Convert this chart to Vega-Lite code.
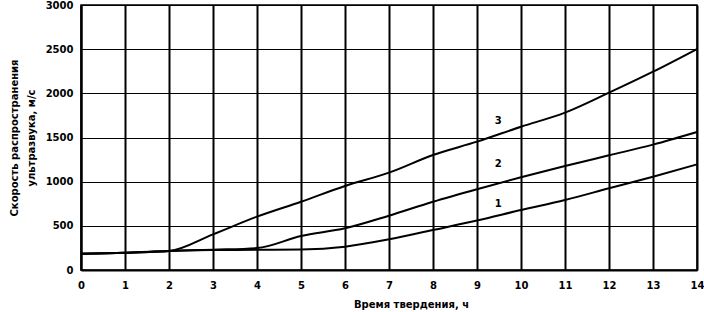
{
  "$schema": "https://vega.github.io/schema/vega-lite/v6.json",
  "autosize": {"type": "none"},
  "width": 616,
  "height": 265,
  "padding": {"left": 81, "top": 5, "right": 7, "bottom": 42},
  "background": "white",
  "config": {
    "view": {"stroke": "black", "strokeWidth": 1.5},
    "font": "DejaVu Sans"
  },
  "datasets": {
    "lines": [
      {"t": 0, "v": 185, "s": "1"}, {"t": 1, "v": 195, "s": "1"}, {"t": 2, "v": 215, "s": "1"}, {"t": 3, "v": 226, "s": "1"}, {"t": 4, "v": 228, "s": "1"}, {"t": 5, "v": 232, "s": "1"}, {"t": 6, "v": 264, "s": "1"}, {"t": 7, "v": 347, "s": "1"}, {"t": 8, "v": 453, "s": "1"}, {"t": 9, "v": 560, "s": "1"}, {"t": 10, "v": 679, "s": "1"}, {"t": 11, "v": 792, "s": "1"}, {"t": 12, "v": 925, "s": "1"}, {"t": 13, "v": 1056, "s": "1"}, {"t": 14, "v": 1196, "s": "1"},
      {"t": 0, "v": 185, "s": "2"}, {"t": 1, "v": 195, "s": "2"}, {"t": 2, "v": 215, "s": "2"}, {"t": 3, "v": 230, "s": "2"}, {"t": 4, "v": 248, "s": "2"}, {"t": 5, "v": 385, "s": "2"}, {"t": 6, "v": 472, "s": "2"}, {"t": 7, "v": 615, "s": "2"}, {"t": 8, "v": 773, "s": "2"}, {"t": 9, "v": 915, "s": "2"}, {"t": 10, "v": 1049, "s": "2"}, {"t": 11, "v": 1177, "s": "2"}, {"t": 12, "v": 1298, "s": "2"}, {"t": 13, "v": 1419, "s": "2"}, {"t": 14, "v": 1562, "s": "2"},
      {"t": 0, "v": 185, "s": "3"}, {"t": 1, "v": 195, "s": "3"}, {"t": 2, "v": 215, "s": "3"}, {"t": 3, "v": 404, "s": "3"}, {"t": 4, "v": 604, "s": "3"}, {"t": 5, "v": 773, "s": "3"}, {"t": 6, "v": 951, "s": "3"}, {"t": 7, "v": 1102, "s": "3"}, {"t": 8, "v": 1302, "s": "3"}, {"t": 9, "v": 1453, "s": "3"}, {"t": 10, "v": 1622, "s": "3"}, {"t": 11, "v": 1781, "s": "3"}, {"t": 12, "v": 2007, "s": "3"}, {"t": 13, "v": 2245, "s": "3"}, {"t": 14, "v": 2502, "s": "3"}
    ],
    "labels": [
      {"t": 9.48, "v": 1690, "s": "3"},
      {"t": 9.48, "v": 1195, "s": "2"},
      {"t": 9.48, "v": 750, "s": "1"}
    ]
  },
  "layer": [
    {
      "data": {"name": "lines"},
      "mark": {"type": "line", "color": "black", "strokeWidth": 2, "interpolate": "monotone"},
      "encoding": {
        "x": {
          "field": "t", "type": "quantitative",
          "scale": {"domain": [0, 14], "nice": false, "zero": false},
          "axis": {
            "values": [0,1,2,3,4,5,6,7,8,9,10,11,12,13,14],
            "format": "d",
            "title": "Время твердения, ч",
            "titleFont": "DejaVu Sans", "titleFontSize": 10, "titleFontWeight": "bold", "titleColor": "black",
            "titleX": 330, "titleY": 37, "titleBaseline": "alphabetic",
            "labelFont": "DejaVu Sans", "labelFontSize": 10, "labelFontWeight": "bold", "labelColor": "black",
            "labelPadding": 10, "tickSize": 0, "ticks": false,
            "domainColor": "black", "domainWidth": 2,
            "grid": true, "gridColor": "black", "gridWidth": 2, "gridOpacity": 1,
            "labelFlush": false
          }
        },
        "y": {
          "field": "v", "type": "quantitative",
          "scale": {"domain": [0, 3000], "nice": false},
          "axis": {
            "values": [0, 500, 1000, 1500, 2000, 2500, 3000],
            "format": "d",
            "title": ["Скорость распространения", "ультразвука,  м/с"],
            "titleFont": "DejaVu Sans", "titleFontSize": 10, "titleFontWeight": "bold", "titleColor": "black",
            "titleLineHeight": 17, "titlePadding": 9,
            "labelFont": "DejaVu Sans", "labelFontSize": 10, "labelFontWeight": "bold", "labelColor": "black",
            "labelPadding": 8, "tickSize": 0, "ticks": false,
            "domainColor": "black", "domainWidth": 2,
            "grid": true, "gridColor": "black", "gridWidth": 1, "gridOpacity": 1,
            "labelFlush": false
          }
        },
        "detail": {"field": "s", "type": "nominal"}
      }
    },
    {
      "data": {"name": "labels"},
      "mark": {"type": "text", "font": "DejaVu Sans", "fontSize": 10, "fontWeight": "bold", "color": "black", "align": "center", "baseline": "middle"},
      "encoding": {
        "x": {"field": "t", "type": "quantitative"},
        "y": {"field": "v", "type": "quantitative"},
        "text": {"field": "s", "type": "nominal"}
      }
    }
  ]
}
